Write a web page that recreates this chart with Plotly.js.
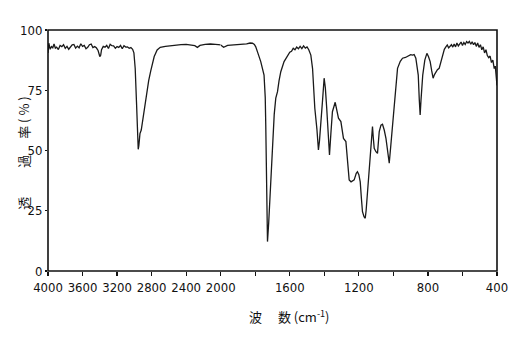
<!DOCTYPE html>
<html>
<head>
<meta charset="utf-8">
<script src="https://cdn.plot.ly/plotly-3.0.1.min.js"></script>
<style>html,body{margin:0;padding:0;background:#fff;}#chart{width:521px;height:349px;}</style>
</head>
<body>
<div id="chart"></div>
<script>
// 4000-2000 cm-1 section (compressed scale)
var highWavenumber = [4000,3990,3975,3960,3945,3930,3915,3900,3880,3860,3840,3820,3800,3780,3760,3740,3720,3700,3680,3660,3640,3620,3600,3580,3560,3540,3520,3500,3480,3460,3440,3420,3400,3390,3380,3360,3340,3320,3300,3280,3260,3240,3220,3200,3180,3160,3140,3120,3100,3080,3060,3040,3020,3005,2990,2975,2962,2955,2948,2935,2920,2905,2880,2860,2834,2810,2794,2770,2736,2700,2640,2580,2520,2460,2400,2340,2300,2270,2240,2180,2120,2060,2000];
var highTransmittance = [90.5,94.5,92,93.1,92.6,94.2,92.5,92.9,91.9,93.6,93.1,93.9,92.4,93.2,92.0,92.7,93.8,94.0,92.5,93.3,92.6,94.3,93.2,93.6,92.2,92.8,93.9,94.2,92.7,93.1,92.6,91.5,89,89.5,91.8,93.2,92.9,93.6,92.3,94.1,93.5,93.4,92.4,93.1,92.8,93.6,92.2,93.5,92.9,93.0,92.4,92.7,92.0,90.5,84,70,56,50.5,52,57,58.5,62,68,74,79,83,86,89,91.7,92.8,93.2,93.5,93.8,93.9,94.0,93.7,93.5,92.8,93.6,94.0,94.2,94.0,93.8];
// 2000-400 cm-1 section (expanded scale)
var lowWavenumber = [2000,1983,1960,1930,1900,1884,1850,1830,1816,1805,1797,1785,1768,1749,1742,1739,1733,1729,1722,1714,1700,1690,1681,1671,1662,1652,1633,1615,1600,1590,1580,1570,1560,1550,1540,1530,1520,1510,1500,1490,1478,1468,1455,1443,1438,1434,1428,1420,1410,1401,1394,1386,1376,1370,1362,1353,1337,1328,1318,1304,1289,1275,1265,1256,1245,1235,1227,1215,1208,1200,1192,1185,1179,1170,1163,1158,1150,1142,1134,1121,1116,1111,1101,1092,1082,1072,1063,1053,1043,1032,1024,1015,1005,991,976,960,947,930,918,900,889,880,870,862,856,850,845,840,830,818,806,797,787,778,770,762,754,745,735,725,715,705,696,688,680,672,664,656,648,640,632,624,616,608,600,592,584,576,568,560,552,544,536,528,520,512,504,496,488,480,472,464,456,448,440,432,424,416,410,405,400];
var lowTransmittance = [93.8,92.8,93.6,93.8,93.9,93.8,94.2,94.6,94.5,94.0,93,90.5,86.9,81.3,72,60.6,33,12.2,20,33,53.7,65,71.7,74.4,79,82.7,86.9,89,90.8,91.2,92.4,91.8,92.9,92.2,93.2,92.3,93.4,92.5,93.0,91.8,89.6,84,67.5,59,53,50.2,54,60.6,71,80,76,67.5,54,48.1,57,66.1,70,67,63.4,62,55,53.7,44,37.8,37,37.5,37.8,40.5,41.2,40,37,30,24.6,22.5,21.9,25,33,41,49.5,59.9,55,50.9,49.5,48.8,57.8,60.5,60.9,58.5,55,49,44.7,52,60.6,74.4,84.1,87,88.3,88.6,89,89.8,89.6,89.8,88.3,85,81.3,71,64.7,71,81.3,87.5,90.3,89,86.9,83,80,81.5,82.7,83.5,84.1,87,89.6,92,93,93.8,92.6,93.4,93.9,92.9,94.2,93,94.6,93.4,94.1,95.0,93.6,94.8,94,95.2,94.6,95.3,94.1,95.1,93.9,94.8,93.2,94.6,92.8,93.9,91.8,93,90.5,91.8,89.4,88.5,89.2,86.5,87.5,84,85,80,77];

var highTickVals = [4000,3600,3200,2800,2400,2000];
var highTickText = ['4000','3600','3200','2800','2400','2000'];
var lowTickVals = [1600,1200,800,400];
var lowTickText = ['1600','1200','800','400'];
var lowMinorTickVals = [1800,1400,1000,600];
var yTickVals = [0,25,50,75,100];
var yTickText = ['0','25','50','75','100'];

var tickFont = {family: '"Liberation Sans Narrow", "DejaVu Sans Condensed", sans-serif', size: 13, color: '#111'};
var cjkFont = {family: '"Noto Sans CJK JP", "Noto Sans CJK SC", sans-serif', size: 13, color: '#111'};
var lineStyle = {color: '#1a1a1a', width: 1.3};

var traces = [
  {x: highWavenumber, y: highTransmittance, xaxis: 'x', yaxis: 'y', mode: 'lines', line: lineStyle, hoverinfo: 'skip'},
  {x: lowWavenumber, y: lowTransmittance, xaxis: 'x2', yaxis: 'y', mode: 'lines', line: lineStyle, hoverinfo: 'skip'}
];

var split = 5/13;
var layout = {
  width: 521, height: 349,
  margin: {l: 48, r: 24, t: 30, b: 78},
  paper_bgcolor: '#fff', plot_bgcolor: '#fff',
  showlegend: false,
  xaxis: {domain: [0, split], range: [4000, 2000], anchor: 'y', showgrid: false, zeroline: false, showline: false,
          ticks: 'outside', ticklen: 4, tickwidth: 1.2, tickcolor: '#111',
          tickmode: 'array', tickvals: highTickVals, ticktext: highTickText, tickfont: tickFont},
  xaxis2: {domain: [split, 1], range: [2000, 400], anchor: 'y', showgrid: false, zeroline: false, showline: false,
          ticks: 'outside', ticklen: 4, tickwidth: 1.2, tickcolor: '#111',
          tickmode: 'array', tickvals: lowTickVals, ticktext: lowTickText, tickfont: tickFont,
          minor: {tickmode: 'array', tickvals: lowMinorTickVals, ticks: 'outside', ticklen: 4, tickwidth: 1.2, tickcolor: '#111', showgrid: false}},
  yaxis: {range: [0, 100], anchor: 'x', showgrid: false, zeroline: false, showline: false,
          ticks: 'outside', ticklen: 2, tickwidth: 1.2, tickcolor: '#111',
          tickmode: 'array', tickvals: yTickVals, ticktext: yTickText, tickfont: tickFont},
  shapes: [{type: 'rect', xref: 'paper', yref: 'paper', x0: 0, x1: 1, y0: 0, y1: 1,
            line: {color: '#111', width: 1.6}}],
  annotations: [
    {xref: 'paper', yref: 'paper', x: -0.054, y: 0.49, xanchor: 'center', yanchor: 'middle',
     text: '透　　 過　 率 ( % )', textangle: -90, showarrow: false, font: cjkFont},
    {xref: 'paper', yref: 'paper', x: 0.443, y: -0.187, xanchor: 'left', yanchor: 'middle',
     text: '波　 数 (cm<sup>-1</sup>)', showarrow: false, font: cjkFont}
  ]
};

Plotly.newPlot('chart', traces, layout, {staticPlot: true, displayModeBar: false});
</script>
</body>
</html>
